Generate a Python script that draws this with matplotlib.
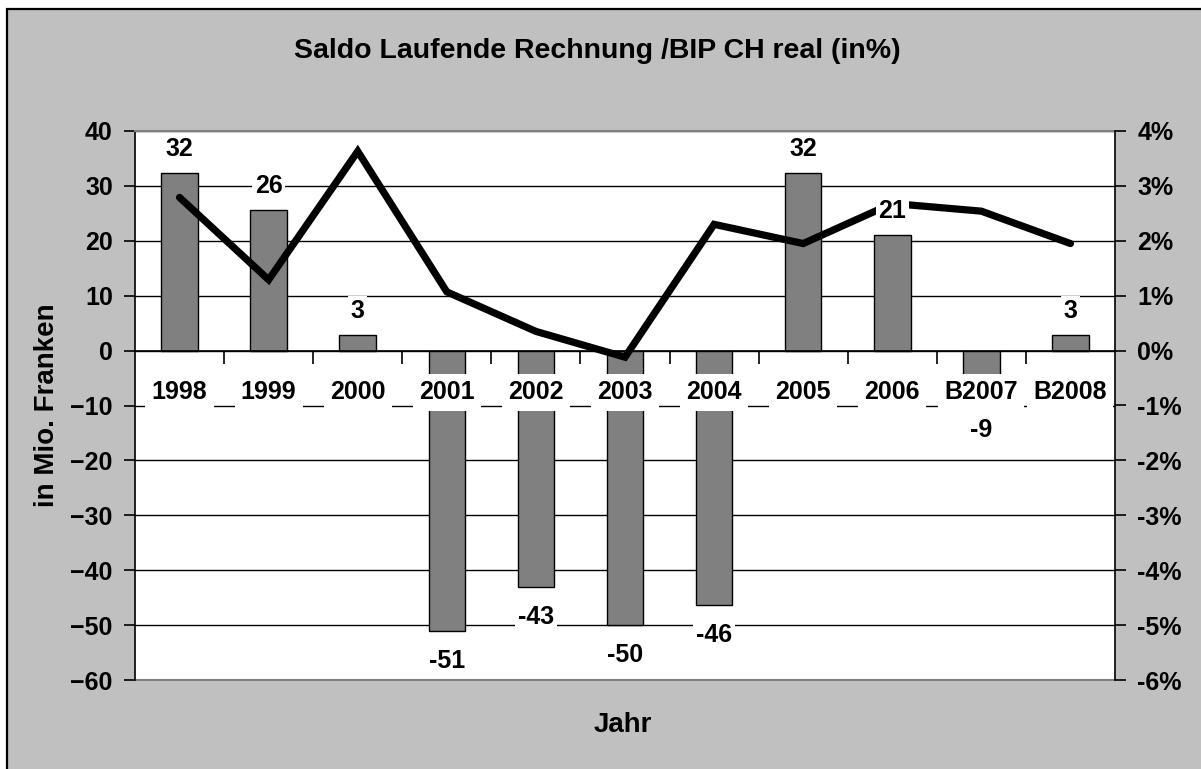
import matplotlib
matplotlib.use("Agg")
import matplotlib.pyplot as plt
from matplotlib.patches import Rectangle
from matplotlib.ticker import FuncFormatter, MultipleLocator, FixedLocator

# ---- data ----
years = ['1998', '1999', '2000', '2001', '2002', '2003', '2004', '2005', '2006', 'B2007', 'B2008']
saldo = [32.4, 25.6, 2.9, -51.1, -43.1, -49.9, -46.3, 32.4, 21.1, -9.0, 2.9]       # Mio. Franken
bip_real = [2.79, 1.29, 3.63, 1.07, 0.35, -0.12, 2.30, 1.95, 2.68, 2.54, 1.95]      # in %

title = 'Saldo Laufende Rechnung /BIP CH real (in%)'
ylabel = 'in Mio. Franken'
xlabel = 'Jahr'

FONT = 'Liberation Sans'
FS = 18
W, H = 1201, 769
DPI = 100

fig = plt.figure(figsize=(W / DPI, H / DPI), dpi=DPI)
fig.patch.set_facecolor('white')
# grey chart area with black border
fig.patches.append(Rectangle((7 / W, -0.02), 1.05, (H - 9) / H + 0.02,
                             transform=fig.transFigure, facecolor='#C0C0C0',
                             edgecolor='black', lw=1.6, zorder=-10))

L, R, T, B = 135, 1115, 131, 680
ax = fig.add_axes([L / W, 1 - B / H, (R - L) / W, (B - T) / H])
ax.set_facecolor('white')
n = len(years)
x = list(range(n))

ax.set_xlim(-0.5, n - 0.5)
ax.set_ylim(-60, 40)
ax.yaxis.set_major_locator(MultipleLocator(10))
ax.grid(axis='y', color='black', lw=1.0)
ax.set_axisbelow(True)

ax.bar(x, saldo, width=0.41, color='#808080', edgecolor='black', lw=1.0, zorder=2)

# spines
ax.spines['top'].set_color('#808080')
ax.spines['top'].set_linewidth(1.5)
ax.spines['left'].set_color('black')
ax.spines['left'].set_linewidth(1.2)
ax.spines['right'].set_visible(False)
ax.spines['bottom'].set_position(('data', 0))
ax.spines['bottom'].set_color('black')
ax.spines['bottom'].set_linewidth(1.2)
ax.add_patch(Rectangle((0, 0), 1, 0.0, transform=ax.transAxes, fill=False,
                       edgecolor='#808080', lw=1.5, clip_on=False))

ax.xaxis.set_major_locator(FixedLocator(x))
ax.xaxis.set_minor_locator(FixedLocator([i + 0.5 for i in range(n - 1)]))
ax.tick_params(axis='x', which='major', length=0, labelbottom=False)
ax.tick_params(axis='x', which='minor', length=9, width=1.2, direction='out', color='black')
ax.tick_params(axis='y', length=8, width=1.2, direction='out', pad=8)
for lab in ax.get_yticklabels():
    lab.set_fontfamily(FONT)
    lab.set_fontweight('bold')
    lab.set_fontsize(FS)

# secondary axis
ax2 = ax.twinx()
ax2.set_ylim(-6, 4)
ax2.yaxis.set_major_locator(MultipleLocator(1))
ax2.yaxis.set_major_formatter(FuncFormatter(lambda v, p: f'{v:.0f}%'))
ax2.tick_params(axis='y', length=8, width=1.2, direction='out', pad=8)
for s in ['top', 'bottom', 'left']:
    ax2.spines[s].set_visible(False)
ax2.spines['right'].set_color('black')
ax2.spines['right'].set_linewidth(1.2)
for lab in ax2.get_yticklabels():
    lab.set_fontfamily(FONT)
    lab.set_fontweight('bold')
    lab.set_fontsize(FS)

ax2.plot(x, bip_real, color='black', lw=5.2, solid_capstyle='round', solid_joinstyle='miter', zorder=3)

# category labels
for xi, yl in zip(x, years):
    ax2.text(xi, -7.6, yl, transform=ax.transData, ha='center', va='center',
             fontfamily=FONT, fontweight='bold', fontsize=FS, zorder=5,
             bbox=dict(facecolor='white', edgecolor='none', pad=4.5))

# data labels
for xi, v in zip(x, saldo):
    off = 24 if v >= 0 else -30
    ax2.annotate(f'{v:.0f}', xy=(xi, v), xycoords=ax.transData,
                 xytext=(0, off), textcoords='offset pixels',
                 ha='center', va='center', fontfamily=FONT, fontweight='bold',
                 fontsize=FS, zorder=6, annotation_clip=False,
                 bbox=dict(facecolor='white', edgecolor='none', pad=2))

fig.text(597 / W, 1 - 51 / H, title, ha='center', va='center',
         fontfamily=FONT, fontweight='bold', fontsize=20.5)
fig.text(47 / W, 1 - 405 / H, ylabel, ha='center', va='center', rotation=90,
         fontfamily=FONT, fontweight='bold', fontsize=20)
fig.text(623 / W, 1 - 725 / H, xlabel, ha='center', va='center',
         fontfamily=FONT, fontweight='bold', fontsize=20)

fig.savefig('out.png', dpi=DPI, facecolor=fig.get_facecolor())
